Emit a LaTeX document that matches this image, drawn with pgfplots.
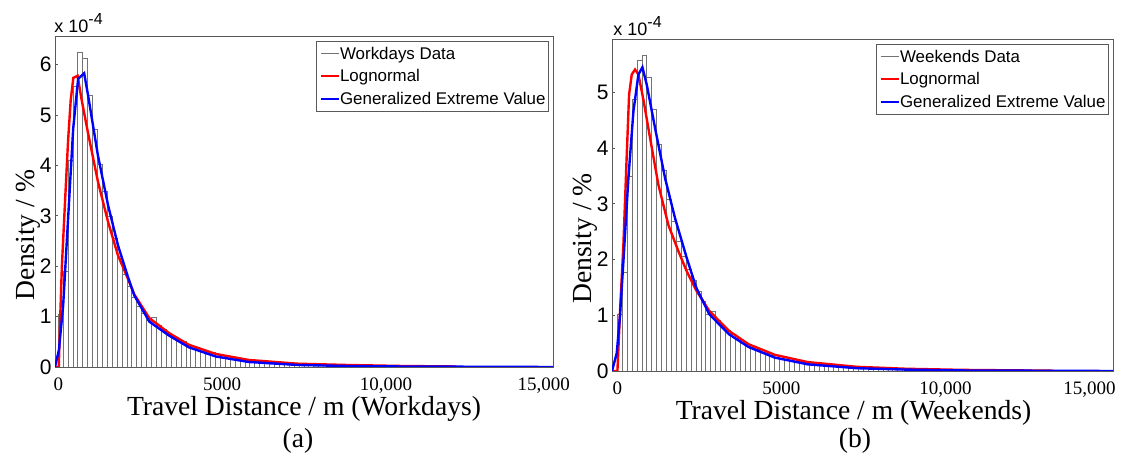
\documentclass[border=0pt]{standalone}
\usepackage{pgfplots}
\pgfplotsset{compat=1.18}
\usepackage{pgfplotstable}
\usepackage{fontspec}
\setmainfont{Liberation Serif}
\newfontfamily\arial{Liberation Sans}

% histogram bins, 150 m wide, left edges; density in units of 1e-4
\pgfplotstableread{
x y
0 1.05
150 1.90
300 4.09
450 5.56
600 6.24
750 6.12
900 5.38
1050 4.72
1200 4.02
1350 3.48
1500 2.98
1650 2.56
1800 2.15
1950 1.84
2100 1.60
2250 1.38
2400 1.20
2550 1.06
2700 0.92
2850 0.98
3000 0.82
3150 0.74
3300 0.67
3450 0.61
3600 0.55
3750 0.50
3900 0.45
4050 0.41
4200 0.37
4350 0.34
4500 0.31
4650 0.28
4800 0.255
4950 0.23
5100 0.21
5250 0.19
5400 0.175
5550 0.16
5700 0.145
5850 0.13
6000 0.12
6150 0.11
6300 0.10
6450 0.092
6600 0.085
6750 0.078
6900 0.072
7050 0.066
7200 0.060
7350 0.055
7500 0.050
7650 0.046
7800 0.042
7950 0.039
8100 0.036
8250 0.033
8400 0.030
8550 0.028
8700 0.026
8850 0.024
9000 0.022
9150 0.020
9300 0.018
9450 0.017
9600 0.016
9750 0.015
9900 0.014
10050 0.013
10200 0.012
10350 0.011
10500 0
}\histwork

\pgfplotstableread{
x y
0 1.02
150 1.76
300 3.49
450 4.87
600 5.58
750 5.67
900 5.26
1050 4.69
1200 4.06
1350 3.59
1500 3.07
1650 2.68
1800 2.33
1950 2.06
2100 1.83
2250 1.62
2400 1.42
2550 1.24
2700 1.02
2850 1.06
3000 0.90
3150 0.80
3300 0.72
3450 0.65
3600 0.58
3750 0.52
3900 0.47
4050 0.42
4200 0.38
4350 0.34
4500 0.31
4650 0.28
4800 0.25
4950 0.225
5100 0.20
5250 0.18
5400 0.165
5550 0.15
5700 0.135
5850 0.12
6000 0.11
6150 0.10
6300 0.09
6450 0.082
6600 0.075
6750 0.068
6900 0.062
7050 0.056
7200 0.051
7350 0.046
7500 0.042
7650 0.038
7800 0.035
7950 0.032
8100 0.029
8250 0.026
8400 0.024
8550 0.022
8700 0.020
8850 0.018
9000 0.017
9150 0.016
9300 0.015
9450 0.014
9600 0.013
9750 0.012
9900 0.011
10050 0.010
10200 0.009
10350 0.009
10500 0
}\histweek

\pgfplotsset{
  distfig/.style={
    scale only axis,
    anchor=south west,
    axis line style={black!65, line width=0.5bp},
    ymin=0,
    scaled x ticks=false,
    xtick={0,5000,10000,15000},
    x tick label style={font=\fontsize{9.5bp}{11bp}\selectfont, yshift=-2bp},
    major tick length=1.5bp,
    tick align=inside,
    xtick style={draw=none},
    ytick pos=left,
    ytick style={black!65, line width=0.5bp},
    yticklabel style={font=\arial\fontsize{10.5bp}{12bp}\selectfont, inner xsep=1.5bp},
    /pgf/number format/assume math mode=true,
    every axis y label/.style={at={(rel axis cs:0,0.4)}, xshift=-13.5bp, rotate=90,
      anchor=center, font=\fontsize{13.8bp}{16bp}\selectfont},
    every axis x label/.style={at={(rel axis cs:0.5,0)}, yshift=-21bp,
      anchor=center, font=\fontsize{13.8bp}{16bp}\selectfont},
    legend cell align=left,
    legend image code/.code={\draw[#1] (0bp,0bp) -- (9bp,0bp);},
    legend style={at={(1,1)}, anchor=north east, xshift=-2bp, yshift=-1.8bp,
      draw=black!65, line width=0.5bp, inner xsep=1.5bp, inner ysep=0.5bp,
      font=\arial\fontsize{8.45bp}{10bp}\selectfont, row sep=0pt,
      nodes={inner xsep=0bp, inner ysep=0.78bp, text height=7.8bp, text depth=2bp}},
  },
  histbars/.style={ybar interval, fill=white, draw=black!55, line width=0.5bp, forget plot},
  lognorm/.style={red, line width=1.2bp},
  gev/.style={blue, line width=1.2bp},
}

\begin{document}
\begin{tikzpicture}
\path[use as bounding box] (0,0) rectangle (566bp,229bp);

\begin{axis}[distfig,
  at={(27.5bp,45.5bp)}, width=249bp, height=165bp,
  xmin=-100, xmax=15100, ymax=6.55, ytick={0,1,2,3,4,5,6},
  xticklabels={0,5000,{10,000},{\hspace*{-6bp}15,000}},
  xlabel={Travel Distance / m (Workdays)}, ylabel={Density / \%}]
\addplot[histbars] table {\histwork};
\addlegendimage{black!55, line width=0.5bp}
\addplot[lognorm] coordinates {
  (-100,0) (15,0) (60,1.0) (110,2.0) (200,3.2) (300,4.5) (380,5.3) (460,5.74)
  (590,5.78) (700,5.35) (900,4.67) (1210,3.68) (1520,2.88) (1820,2.22)
  (2120,1.76) (2320,1.44) (2780,0.97) (3390,0.67) (3990,0.44) (4800,0.26)
  (5810,0.14) (7320,0.065) (8830,0.04) (10500,0.02) (12150,0.01)};
\addplot[gev] coordinates {
  (-100,0) (20,0.34) (150,1.23) (300,2.95) (455,4.73) (606,5.72) (790,5.83)
  (910,5.39) (1210,4.2) (1520,3.21) (1820,2.42) (2120,1.80) (2320,1.42)
  (2780,0.90) (3390,0.62) (3990,0.39) (4800,0.21) (5810,0.10) (7320,0.04)
  (8830,0.02) (10500,0.01) (15100,0)};
\legend{Workdays Data, Lognormal, Generalized Extreme Value}
\end{axis}

\begin{axis}[distfig,
  at={(306bp,43.5bp)}, width=250.5bp, height=165.5bp,
  xmin=-165, xmax=15110, ymax=5.94, ytick={0,1,2,3,4,5},
  xticklabels={0,5000,{10,000},{\hspace*{-20bp}15,000}},
  xlabel={Travel Distance / m (Weekends)}, ylabel={Density / \%},
  every axis x label/.append style={xshift=-4.5bp}]
\addplot[histbars] table {\histweek};
\addlegendimage{black!55, line width=0.5bp}
\addplot[lognorm] coordinates {
  (-165,0) (0,0) (80,1.07) (183,2.27) (285,3.88) (356,4.96) (437,5.32)
  (538,5.41) (640,5.32) (792,4.87) (996,4.18) (1250,3.34) (1554,2.62)
  (1859,2.15) (2113,1.79) (2400,1.45) (2800,1.08) (3400,0.72) (4000,0.48)
  (4800,0.29) (5800,0.16) (7300,0.075) (8800,0.04) (10500,0.02) (13300,0.005)};
\addplot[gev] coordinates {
  (-165,0) (-20,0.32) (81,1.01) (183,1.97) (335,3.46) (488,4.66) (640,5.32)
  (762,5.45) (894,5.14) (1148,4.36) (1453,3.46) (1758,2.74) (2113,2.03)
  (2400,1.50) (2800,1.02) (3400,0.66) (4000,0.43) (4800,0.24) (5800,0.12)
  (7300,0.05) (8800,0.025) (10500,0.01) (15110,0)};
\legend{Weekends Data, Lognormal, Generalized Extreme Value}
\end{axis}

\node[anchor=base west, inner sep=0pt, font=\arial\fontsize{9bp}{10bp}\selectfont]
  at (27bp,212.5bp) {x 10\raisebox{4bp}{\fontsize{8bp}{9bp}\selectfont -4}};
\node[anchor=base west, inner sep=0pt, font=\arial\fontsize{9bp}{10bp}\selectfont]
  at (306.5bp,211bp) {x 10\raisebox{4bp}{\fontsize{8bp}{9bp}\selectfont -4}};
\node[font=\fontsize{13.8bp}{16bp}\selectfont] at (149bp,8.5bp) {(a)};
\node[font=\fontsize{13.8bp}{16bp}\selectfont] at (427.5bp,8.5bp) {(b)};
\end{tikzpicture}
\end{document}
